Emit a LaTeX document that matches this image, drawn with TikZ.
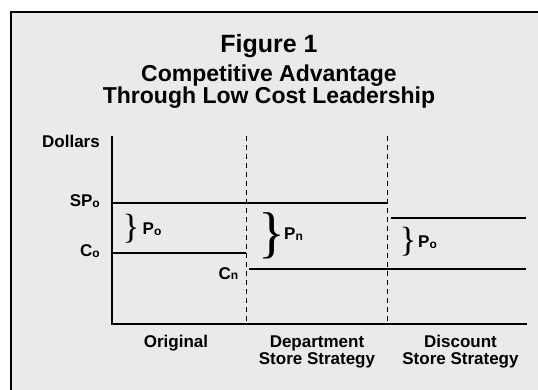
\documentclass[tikz,border=0pt]{standalone}
\usepackage{fontspec}
\setmainfont{Liberation Sans}
\newfontfamily\bracefont{Liberation Serif}
\definecolor{panel}{HTML}{EAEAEA}
\newcommand{\lowidx}[1]{\raisebox{-0.8pt}{\fontsize{12}{12}\selectfont\bfseries #1}}
\begin{document}
\begin{tikzpicture}[x=1pt,y=-1pt,
  lbl/.style={font=\fontsize{17}{17.5}\selectfont\bfseries, inner sep=0pt},
  axis/.style={line width=2.4pt},
  level/.style={line width=1.2pt},
  divider/.style={line width=0.9pt, dash pattern=on 5pt off 4pt},
  brace/.style={inner sep=0pt}]
\useasboundingbox (0,0) rectangle (538,390);
\clip (0,0) rectangle (538,390);
% panel
\draw[fill=panel, line width=1.4pt] (11,12) rectangle (545,400);
% titles (the base anchor of a two-line node sits on its last line)
\node[inner sep=0pt, anchor=base, font=\fontsize{25}{28}\selectfont\bfseries] (title) at (269,52.5) {Figure 1};
\node[inner sep=0pt, anchor=base, font=\fontsize{23}{20.5}\selectfont\bfseries, align=center] (sub) at (269,104) {Competitive Advantage\\Through Low Cost Leadership};
% axes
\coordinate (top) at (112,136);
\coordinate (origin) at (112,324);
\coordinate (xend) at (527,324);
\draw[axis] (top) -- (origin) -- (xend);
% dashed dividers
\coordinate (d1t) at (246,136); \coordinate (d1b) at (246,324);
\coordinate (d2t) at (387,136); \coordinate (d2b) at (387,324);
\draw[divider] (d1t) -- (d1b);
\draw[divider] (d2t) -- (d2b);
% price and cost levels
\coordinate (sp0) at (112,203); \coordinate (sp1) at (387,203);
\coordinate (c0) at (112,253); \coordinate (c1) at (246,253);
\coordinate (cn0) at (249,269); \coordinate (cn1) at (526,269);
\coordinate (sd0) at (391,218); \coordinate (sd1) at (526,218);
\draw[level] (sp0) -- (sp1);
\draw[level] (c0) -- (c1);
\draw[level] (cn0) -- (cn1);
\draw[level] (sd0) -- (sd1);
% axis labels
\node[lbl, anchor=base east] (dollars) at (100,147.5) {Dollars};
\node[lbl, anchor=base east] (splab) at (100,206.5) {SP\lowidx{o}};
\node[lbl, anchor=base east] (colab) at (100,256.5) {C\lowidx{o}};
\node[lbl, anchor=base east] (cnlab) at (238.5,279) {C\lowidx{n}};
% margins
\node[brace, font=\bracefont\fontsize{35}{35}\selectfont] (b1) at (131,228.5) {\}};
\node[lbl, anchor=base west] (p1) at (142.5,235) {P\lowidx{o}};
\node[brace, font=\bracefont\fontsize{56}{56}\selectfont] (b2) at (271.5,236.3) {\}};
\node[lbl, anchor=base west] (p2) at (284,240) {P\lowidx{n}};
\node[brace, font=\bracefont\fontsize{35}{35}\selectfont] (b3) at (408,241.5) {\}};
\node[lbl, anchor=base west] (p3) at (418,247.5) {P\lowidx{o}};
% column labels
\node[lbl, align=center, anchor=base] (orig) at (176,347) {Original};
\node[lbl, align=center, anchor=base] (dept) at (317,364.5) {Department\\Store Strategy};
\node[lbl, align=center, anchor=base] (disc) at (460.5,364.5) {Discount\\Store Strategy};
\end{tikzpicture}
\end{document}
